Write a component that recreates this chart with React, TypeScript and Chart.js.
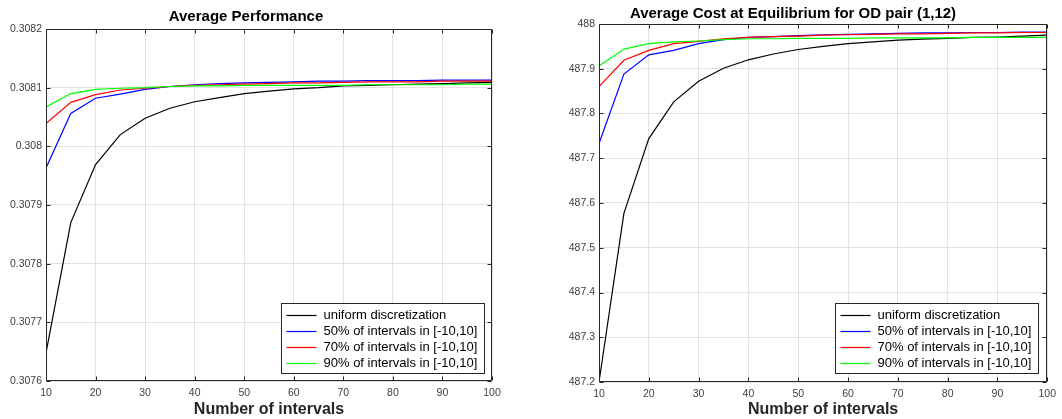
import React, { useEffect, useRef } from "react";
import { Chart, registerables } from "chart.js";

Chart.register(...registerables);

const FONT = "'Liberation Sans', Arial, Helvetica, sans-serif";

// x values (number of intervals)
const intervals = [10, 15, 20, 25, 30, 35, 40, 45, 50, 55, 60, 65, 70, 75, 80, 85, 90, 95, 100];

const seriesNames = [
  "uniform discretization",
  "50% of intervals in [-10,10]",
  "70% of intervals in [-10,10]",
  "90% of intervals in [-10,10]",
];
const seriesColors = ["#000000", "#0000ff", "#ff0000", "#00ff00"];

// Left chart: Average Performance
const perfUniform = [0.307648, 0.30787, 0.307969, 0.30802, 0.308048, 0.308065, 0.308076, 0.308083, 0.30809, 0.308094, 0.308098, 0.3081, 0.308103, 0.308104, 0.308105, 0.308106, 0.308107, 0.308108, 0.308109];
const perf50 = [0.307963, 0.308056, 0.308082, 0.308089, 0.308097, 0.308102, 0.308105, 0.308107, 0.308108, 0.308109, 0.30811, 0.308111, 0.308111, 0.308112, 0.308112, 0.308112, 0.308113, 0.308113, 0.308113];
const perf70 = [0.308039, 0.308075, 0.308088, 0.308096, 0.308099, 0.308102, 0.308104, 0.308105, 0.308106, 0.308107, 0.308108, 0.308108, 0.308109, 0.30811, 0.30811, 0.30811, 0.308111, 0.308111, 0.308111];
const perf90 = [0.308067, 0.30809, 0.308097, 0.308099, 0.3081, 0.308102, 0.308103, 0.308103, 0.308104, 0.308104, 0.308104, 0.308104, 0.308104, 0.308105, 0.308105, 0.308105, 0.308105, 0.308106, 0.308106];

// Right chart: Average Cost at Equilibrium for OD pair (1,12)
const costUniform = [487.2, 487.577, 487.744, 487.826, 487.872, 487.901, 487.92, 487.933, 487.943, 487.95, 487.956, 487.96, 487.964, 487.966, 487.968, 487.97, 487.971, 487.973, 487.975];
const cost50 = [487.733, 487.888, 487.931, 487.941, 487.956, 487.965, 487.97, 487.972, 487.974, 487.976, 487.977, 487.978, 487.979, 487.98, 487.98, 487.981, 487.981, 487.982, 487.982];
const cost70 = [487.86, 487.919, 487.941, 487.956, 487.961, 487.967, 487.97, 487.972, 487.973, 487.975, 487.976, 487.977, 487.978, 487.978, 487.979, 487.98, 487.98, 487.981, 487.981];
const cost90 = [487.906, 487.944, 487.956, 487.96, 487.962, 487.965, 487.967, 487.967, 487.968, 487.968, 487.968, 487.969, 487.969, 487.969, 487.969, 487.97, 487.97, 487.97, 487.97];

// Tick values and labels
const xTickValues = [10, 20, 30, 40, 50, 60, 70, 80, 90, 100];
const xTickLabels = ["10", "20", "30", "40", "50", "60", "70", "80", "90", "100"];
const perfYTickValues = [0.3076, 0.3077, 0.3078, 0.3079, 0.308, 0.3081, 0.3082];
const perfYTickLabels = ["0.3076", "0.3077", "0.3078", "0.3079", "0.308", "0.3081", "0.3082"];
const costYTickValues = [487.2, 487.3, 487.4, 487.5, 487.6, 487.7, 487.8, 487.9, 488];
const costYTickLabels = ["487.2", "487.3", "487.4", "487.5", "487.6", "487.7", "487.8", "487.9", "488"];

const AXIS_COLOR = "#262626";
const GRID_COLOR = "#e2e2e2";

const framePlugin = {
  id: "matlabFrame",
  afterDatasetsDraw(chart: any) {
    const { ctx, chartArea: a, scales } = chart;
    const xs = scales.x;
    const ys = scales.y;
    ctx.save();
    ctx.strokeStyle = AXIS_COLOR;
    ctx.lineWidth = 1;
    const L = Math.round(a.left) + 0.5;
    const R = Math.round(a.right) - 0.5;
    const T = Math.round(a.top) + 0.5;
    const B = Math.round(a.bottom) - 0.5;
    ctx.beginPath();
    ctx.rect(L, T, R - L, B - T);
    ctx.stroke();
    const tl = 4;
    ctx.beginPath();
    for (const t of xs.ticks) {
      const x = Math.round(xs.getPixelForValue(t.value)) + 0.5;
      ctx.moveTo(x, B);
      ctx.lineTo(x, B - tl);
      ctx.moveTo(x, T);
      ctx.lineTo(x, T + tl);
    }
    for (const t of ys.ticks) {
      const y = Math.round(ys.getPixelForValue(t.value)) + 0.5;
      ctx.moveTo(L, y);
      ctx.lineTo(L + tl, y);
      ctx.moveTo(R, y);
      ctx.lineTo(R - tl, y);
    }
    ctx.stroke();

    // Legend box (inside plot, bottom-right)
    const ds = chart.data.datasets;
    ctx.font = `13px ${FONT}`;
    let maxW = 0;
    for (const d of ds) maxW = Math.max(maxW, ctx.measureText(d.label).width);
    const inset = chart.options.plugins.matlabFrame?.inset ?? 8;
    const w = Math.round(5 + 30 + 7 + maxW + 7);
    const h = 70;
    const bx = Math.round(a.right - inset - w) + 0.5;
    const by = Math.round(a.bottom - inset - h) + 0.5;
    ctx.fillStyle = "#ffffff";
    ctx.fillRect(bx, by, w, h);
    ctx.strokeStyle = AXIS_COLOR;
    ctx.strokeRect(bx, by, w, h);
    ctx.textBaseline = "middle";
    ctx.textAlign = "left";
    ds.forEach((d: any, i: number) => {
      const cy = by + 11 + 16 * i;
      ctx.strokeStyle = d.borderColor;
      ctx.lineWidth = 1.2;
      ctx.beginPath();
      ctx.moveTo(bx + 5, Math.round(cy) + 0.5);
      ctx.lineTo(bx + 35, Math.round(cy) + 0.5);
      ctx.stroke();
      ctx.fillStyle = "#000000";
      ctx.fillText(d.label, bx + 42, cy + 0.5);
    });
    ctx.restore();
  },
};

type PanelProps = {
  width: number;
  height: number;
  title: string;
  series: number[][];
  yMin: number;
  yMax: number;
  yTicks: number[];
  yLabels: string[];
  yAxisWidth: number;
  padRight: number;
  titlePadTop: number;
  titlePadBottom: number;
  xAxisHeight: number;
  legendInset: number;
};

function Panel(p: PanelProps) {
  const ref = useRef<HTMLCanvasElement | null>(null);
  useEffect(() => {
    if (!ref.current) return;
    const datasets = p.series.map((vals, i) => ({
      label: seriesNames[i],
      data: intervals.map((x, j) => ({ x, y: vals[j] })),
      borderColor: seriesColors[i],
      backgroundColor: seriesColors[i],
      borderWidth: 1.2,
      pointRadius: 0,
      tension: 0,
      fill: false,
      order: p.series.length - i,
    }));
    const chart = new Chart(ref.current, {
      type: "line",
      data: { datasets },
      plugins: [framePlugin],
      options: {
        responsive: false,
        animation: false,
        layout: { padding: { left: 0, right: p.padRight, top: 0, bottom: 0 } },
        plugins: {
          legend: { display: false },
          tooltip: { enabled: false },
          matlabFrame: { inset: p.legendInset },
          title: {
            display: true,
            text: p.title,
            color: "#000000",
            font: { family: FONT, size: 15, weight: "bold" },
            padding: { top: p.titlePadTop, bottom: p.titlePadBottom },
          },
        } as any,
        scales: {
          x: {
            type: "linear",
            min: 10,
            max: 100,
            afterBuildTicks: (s: any) => {
              s.ticks = xTickValues.map((v) => ({ value: v }));
            },
            afterFit: (s: any) => {
              s.height = p.xAxisHeight;
            },
            grid: { color: GRID_COLOR, drawTicks: false, lineWidth: 1 },
            border: { display: false },
            ticks: {
              color: "#404040",
              font: { family: FONT, size: 10.5 },
              padding: 6,
              maxRotation: 0,
              autoSkip: false,
              callback: (_v: any, i: number) => xTickLabels[i],
            },
            title: {
              display: true,
              text: "Number of intervals",
              color: AXIS_COLOR,
              font: { family: FONT, size: 16, weight: "bold" },
              padding: { top: 0, bottom: 0 },
            },
          },
          y: {
            type: "linear",
            min: p.yMin,
            max: p.yMax,
            afterBuildTicks: (s: any) => {
              s.ticks = p.yTicks.map((v) => ({ value: v }));
            },
            afterFit: (s: any) => {
              s.width = p.yAxisWidth;
            },
            grid: { color: GRID_COLOR, drawTicks: false, lineWidth: 1 },
            border: { display: false },
            ticks: {
              color: "#404040",
              font: { family: FONT, size: 10.5 },
              padding: 4,
              autoSkip: false,
              callback: (_v: any, i: number) => p.yLabels[i],
            },
          },
        },
      } as any,
    });
    return () => chart.destroy();
  }, []);
  return <canvas ref={ref} width={p.width} height={p.height} style={{ display: "block" }} />;
}

export default function App() {
  return (
    <div
      style={{
        position: "fixed",
        left: 0,
        top: 0,
        width: 1062,
        height: 419,
        background: "#ffffff",
      }}
    >
      <div style={{ position: "absolute", left: 0, top: 0 }}>
        <Panel
          width={535}
          height={419}
          title="Average Performance"
          series={[perfUniform, perf50, perf70, perf90]}
          yMin={0.3076}
          yMax={0.3082}
          yTicks={perfYTickValues}
          yLabels={perfYTickLabels}
          yAxisWidth={46}
          padRight={43}
          titlePadTop={8}
          titlePadBottom={3}
          xAxisHeight={38}
          legendInset={8}
        />
      </div>
      <div style={{ position: "absolute", left: 535, top: 0 }}>
        <Panel
          width={527}
          height={419}
          title="Average Cost at Equilibrium for OD pair (1,12)"
          series={[costUniform, cost50, cost70, cost90]}
          yMin={487.2}
          yMax={488}
          yTicks={costYTickValues}
          yLabels={costYTickLabels}
          yAxisWidth={64}
          padRight={11}
          titlePadTop={5}
          titlePadBottom={1}
          xAxisHeight={37}
          legendInset={9}
        />
      </div>
    </div>
  );
}
